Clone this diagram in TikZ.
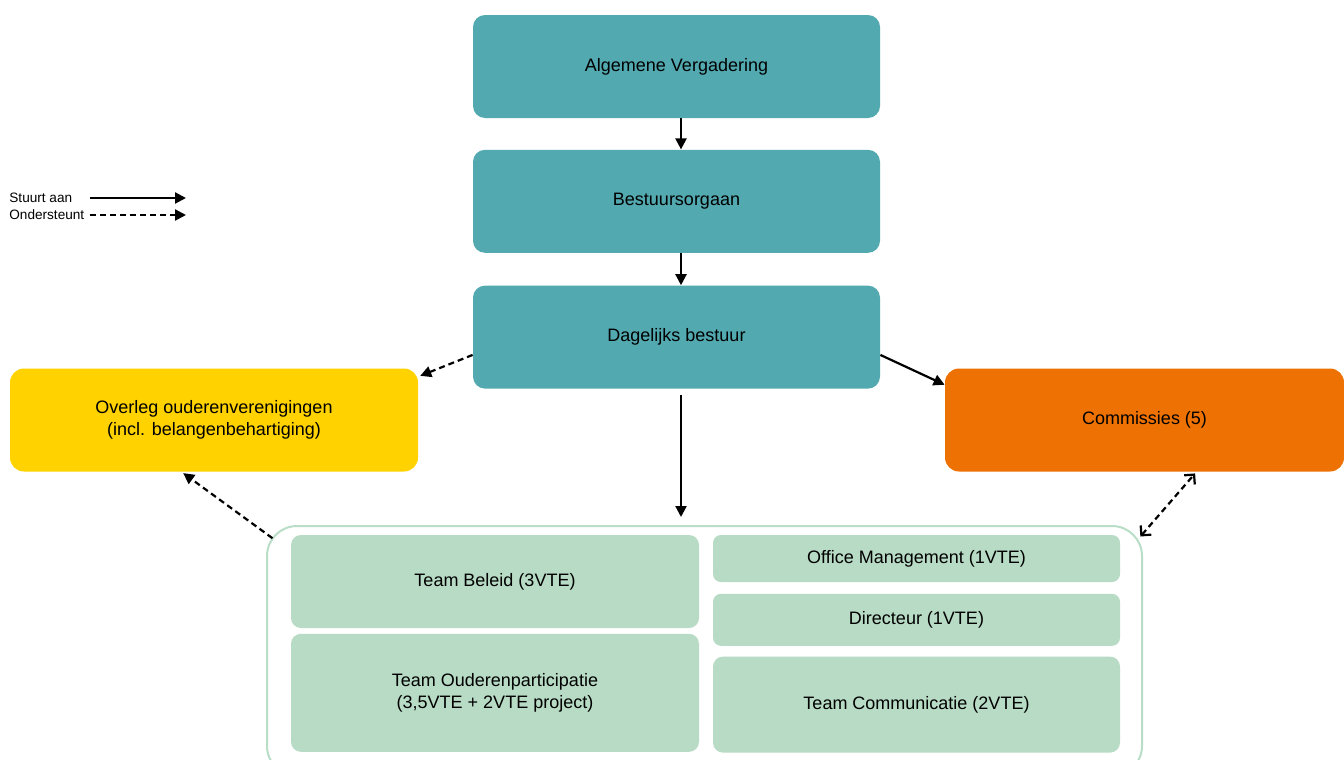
\documentclass[tikz,border=0pt]{standalone}
\usepackage{fontspec}
\setmainfont{Liberation Sans}
\usetikzlibrary{arrows.meta,positioning}

\definecolor{teal}{HTML}{52A9B0}
\definecolor{gold}{HTML}{FFD200}
\definecolor{orangeb}{HTML}{ED7203}
\definecolor{mint}{HTML}{B7DBC4}
\definecolor{mintline}{HTML}{B9DEC7}

\begin{document}
\begin{tikzpicture}[x=0.5pt,y=-0.5pt]
    \tikzset{block/.style= {rectangle, rounded corners=6pt
    , minimum width=203.5pt
    , minimum height=51.5pt
    , align=center
    , font=\fontsize{9}{11}\selectfont
      }
    , top/.style= {block, fill=teal}
    , team/.style= {block, fill=mint, minimum width=204pt, rounded corners=5pt}
    , steer/.style= {draw, line width=1.1pt, -{Triangle[length=5.5pt,width=5.5pt]}}
    , support/.style= {steer, dash pattern=on 3pt off 2pt}
    , legend/.style= {anchor=west, inner sep=0pt, font=\fontsize{6.8}{8}\selectfont}
    }

\useasboundingbox (0,0) rectangle (1344,760);

% legend
\node [legend] (lsteer) at (9,198) {Stuurt aan};
\node [legend] (lsupport) at (9,215) {Ondersteunt};
\coordinate (ls0) at (90,198);
\coordinate (ls1) at (186,198);
\coordinate (lo0) at (90,215);
\coordinate (lo1) at (186,215);
\path [steer] (ls0) -- (ls1);
\path [support] (lo0) -- (lo1);

% bestuur
\node [top] (av) at (676.5,66.5) {Algemene Vergadering};
\node [top, below=15.5pt of av] (bo) {Bestuursorgaan};
\node [top, below=16pt of bo] (db) {Dagelijks bestuur};

\node [block, fill=gold, rounded corners=7pt, minimum width=204pt] (ov) at (214,420)
    {Overleg ouderenverenigingen\\(incl. belangenbehartiging)};
\node [block, fill=orangeb, rounded corners=7pt, minimum width=199.5pt] (com) at (1144.5,420)
    {Commissies (5)};

% team
\node [draw=mintline, line width=1pt, fill=white, rounded corners=15pt
    , minimum width=437.5pt, minimum height=125pt] (team) at (704.5,651) {};
\node [team, minimum height=46.5pt] (beleid) at (495,581.5) {Team Beleid (3VTE)};
\node [team, minimum height=59pt, below=2.5pt of beleid] (ouder)
    {Team Ouderenparticipatie\\(3,5VTE + 2VTE project)};
\node [team, minimum height=23.5pt, minimum width=203.5pt, rounded corners=4pt] (office) at (916.5,558.5)
    {Office Management (1VTE)};
\node [team, minimum height=26pt, minimum width=203.5pt, rounded corners=4pt, below=5.5pt of office] (dir)
    {Directeur (1VTE)};
\node [team, minimum height=48pt, minimum width=203.5pt, below=5pt of dir] (comm)
    {Team Communicatie (2VTE)};

 \path [steer]
  ([xshift=2.25pt]av.south) -- ([xshift=2.25pt]bo.north);
 \path [steer]
  ([xshift=2.25pt]bo.south) -- ([xshift=2.25pt]db.north);
 \path [steer, shorten <=3pt, shorten >=4pt]
  ([xshift=2.25pt]db.south) -- ([xshift=2.25pt]db.south |- team.north);
 \path [support, shorten >=1pt] (db.185) -- (ov.12);
 \path [steer] (db.-5) -- (com.170);
 \path [support, shorten <=-4pt, shorten >=1pt] (team.165.6) -- (ov.238);
 \path [support, {Straight Barb[length=3.5pt,width=7pt,line width=1.1pt]}-{Straight Barb[length=3.5pt,width=7pt,line width=1.1pt]}
    , shorten <=-2pt, shorten >=1pt] (team.15) -- (com.-45);
\end{tikzpicture}
\end{document}
